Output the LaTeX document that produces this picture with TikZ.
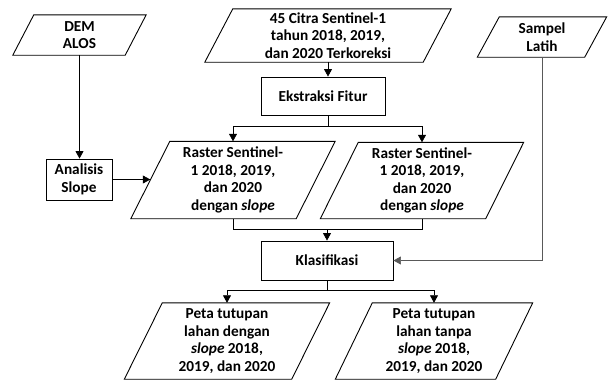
\documentclass[tikz,border=0pt]{standalone}
\usepackage{fontspec}
\setmainfont{Carlito}
\usetikzlibrary{arrows.meta}
\newcommand\drawpara[2]{\draw[shapeline] ([xshift=-#2]#1.south west) -- ([xshift=-#2]#1.south east) -- ([xshift=#2]#1.north east) -- ([xshift=#2]#1.north west) -- cycle;}
\begin{document}
\begin{tikzpicture}[x=1pt,y=-1pt,
  every node/.style={font=\bfseries\fontsize{15.3}{17.5}\selectfont, align=center, inner sep=0pt},
  shapeline/.style={draw=black, line width=0.9pt},
  pbox/.style={draw=none},
  rbox/.style={draw=black, line width=0.9pt},
  conn/.style={draw=black, line width=0.7pt, -{Triangle[width=8pt,length=7.5pt]}},
  plainline/.style={draw=black, line width=0.7pt},
  grayconn/.style={draw=black!65, line width=0.7pt, -{Triangle[width=8pt,length=7.5pt]}}]
\useasboundingbox (0,0) rectangle (609,383);
\fill[white] (0,0) rectangle (609,383);

% nodes
\node[pbox, minimum width=112pt, minimum height=40pt] (dem) at (79.5,35) {DEM\\ALOS};
\node[pbox, minimum width=218pt, minimum height=53pt] (citra) at (328,35.5) {45 Citra Sentinel-1\\tahun 2018, 2019,\\dan 2020 Terkoreksi};
\node[pbox, minimum width=107pt, minimum height=40pt] (sampel) at (542,37) {Sampel\\Latih};
\node[rbox, minimum width=66pt, minimum height=41pt] (slope) at (79,179.5) {Analisis\\Slope};
\node[rbox, minimum width=124pt, minimum height=38pt] (fitur) at (323,96) {Ekstraksi Fitur};
\node[pbox, minimum width=165pt, minimum height=77pt] (r1) at (233,180) {Raster Sentinel-\\1 2018, 2019,\\dan 2020\\dengan \textit{slope}};
\node[pbox, minimum width=165pt, minimum height=76pt] (r2) at (422,180.5) {Raster Sentinel-\\1 2018, 2019,\\dan 2020\\dengan \textit{slope}};
\node[rbox, minimum width=132pt, minimum height=39pt] (klas) at (327,260.5) {Klasifikasi};
\node[pbox, minimum width=167pt, minimum height=76pt] (o1) at (227,341) {Peta tutupan\\lahan dengan\\\textit{slope} 2018,\\2019, dan 2020};
\node[pbox, minimum width=160pt, minimum height=76pt] (o2) at (434,341) {Peta tutupan\\lahan tanpa\\\textit{slope} 2018,\\2019, dan 2020};

% parallelogram outlines
\drawpara{dem}{10.5pt}
\drawpara{citra}{14pt}
\drawpara{sampel}{11pt}
\drawpara{r1}{19.5pt}
\drawpara{r2}{19pt}
\drawpara{o1}{19pt}
\drawpara{o2}{18.5pt}

% connectors
\draw[conn] (dem.south) -- (dem.south |- slope.north);
\draw[conn] (slope.east) -- (slope.east -| r1.west);
\draw[conn] (citra.south) -- (citra.south |- fitur.north);
\draw[plainline] (citra.south |- fitur.south) -- ++(0,11) coordinate (s1);
\draw[conn] (s1) -| (r1.north);
\draw[conn] (s1) -| (r2.north);
\draw[plainline] (r1.south) -- ++(0,11) coordinate (m1) -| (r2.south);
\draw[conn] (m1 -| klas.north) -- (klas.north);
\draw[grayconn] (sampel.south) |- (klas.east);
\draw[plainline] (klas.south) -- ++(0,10) coordinate (s2);
\draw[conn] (s2) -| (o1.north);
\draw[conn] (s2) -| (o2.north);
\end{tikzpicture}
\end{document}
